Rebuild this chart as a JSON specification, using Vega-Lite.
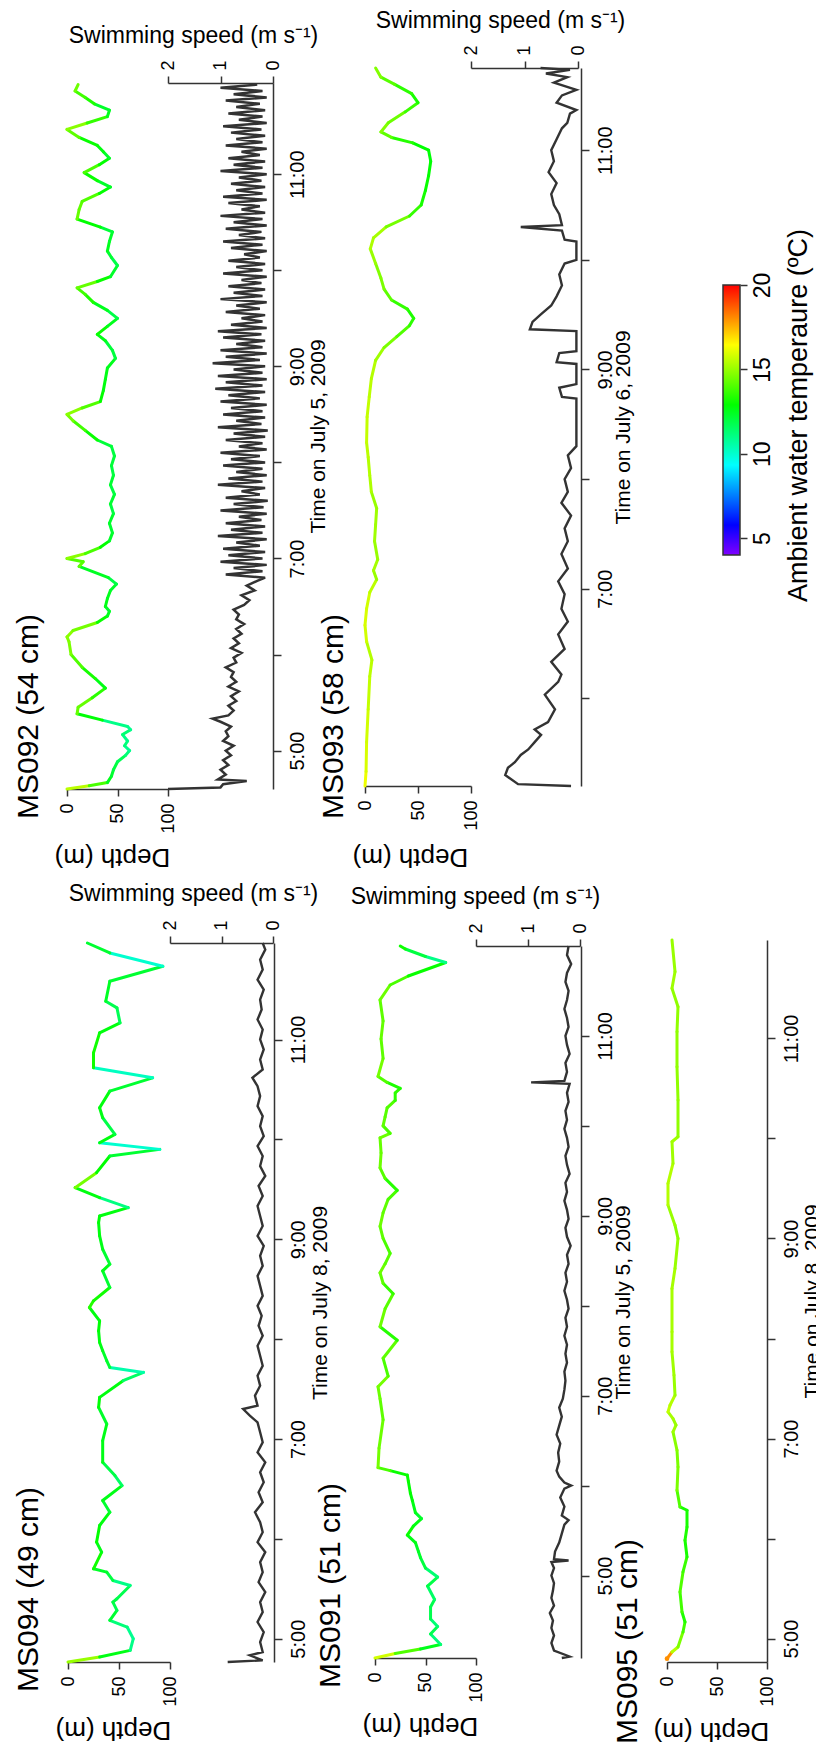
{
"$schema": "https://vega.github.io/schema/vega-lite/v6.json",
"width": 816, "height": 1764,
"autosize": {"type": "none"},
"padding": 0,
"background": "white",
"config": {"view": {"stroke": null}, "font": "Liberation Sans",
 "axis": {"grid": false, "labelColor": "#000", "titleColor": "#000", "domainColor": "#333", "tickColor": "#333", "domainWidth": 1.5, "tickWidth": 1.5, "titleFontWeight": "normal", "labelFontSize": 18, "titleFontSize": 22, "labelOverlap": false, "labelFlush": false}},
"datasets": {
"ms092_depth": [{"t":"04:36","d":0,"temp":15.5},{"t":"04:38","d":22,"temp":13.9},{"t":"04:40","d":40,"temp":12.5},{"t":"04:44","d":44,"temp":12.2},{"t":"04:48","d":46,"temp":12.0},{"t":"04:53","d":50,"temp":11.7},{"t":"04:57","d":58,"temp":11.2},{"t":"05:00","d":62,"temp":10.9},{"t":"05:03","d":57,"temp":11.2},{"t":"05:06","d":60,"temp":11.0},{"t":"05:10","d":55,"temp":11.3},{"t":"05:13","d":63,"temp":10.9},{"t":"05:15","d":60,"temp":11.0},{"t":"05:19","d":35,"temp":12.8},{"t":"05:23","d":10,"temp":14.3},{"t":"05:27","d":11,"temp":14.3},{"t":"05:33","d":25,"temp":13.5},{"t":"05:39","d":38,"temp":12.6},{"t":"05:45","d":28,"temp":13.2},{"t":"05:52","d":15,"temp":14.0},{"t":"06:00","d":4,"temp":14.6},{"t":"06:08","d":2,"temp":14.7},{"t":"06:11","d":0,"temp":14.8},{"t":"06:15","d":6,"temp":14.5},{"t":"06:20","d":30,"temp":13.0},{"t":"06:24","d":40,"temp":12.5},{"t":"06:27","d":42,"temp":12.3},{"t":"06:30","d":38,"temp":12.6},{"t":"06:35","d":40,"temp":12.5},{"t":"06:40","d":43,"temp":12.3},{"t":"06:44","d":49,"temp":11.9},{"t":"06:48","d":41,"temp":12.4},{"t":"06:55","d":12,"temp":14.2},{"t":"06:58","d":16,"temp":14.0},{"t":"07:00","d":0,"temp":14.8},{"t":"07:03","d":18,"temp":13.9},{"t":"07:07","d":33,"temp":12.9},{"t":"07:11","d":42,"temp":12.3},{"t":"07:16","d":45,"temp":12.2},{"t":"07:22","d":42,"temp":12.3},{"t":"07:28","d":46,"temp":12.0},{"t":"07:34","d":43,"temp":12.2},{"t":"07:40","d":47,"temp":12.0},{"t":"07:46","d":43,"temp":12.2},{"t":"07:52","d":46,"temp":12.0},{"t":"07:58","d":44,"temp":12.1},{"t":"08:04","d":47,"temp":12.0},{"t":"08:10","d":44,"temp":12.1},{"t":"08:14","d":30,"temp":13.0},{"t":"08:20","d":18,"temp":13.8},{"t":"08:26","d":6,"temp":14.5},{"t":"08:30","d":0,"temp":14.8},{"t":"08:34","d":15,"temp":14.0},{"t":"08:38","d":33,"temp":12.9},{"t":"08:45","d":36,"temp":12.7},{"t":"08:52","d":38,"temp":12.6},{"t":"08:59","d":40,"temp":12.5},{"t":"09:05","d":48,"temp":12.0},{"t":"09:10","d":45,"temp":12.1},{"t":"09:16","d":38,"temp":12.6},{"t":"09:20","d":30,"temp":13.0},{"t":"09:25","d":40,"temp":12.5},{"t":"09:30","d":50,"temp":11.9},{"t":"09:35","d":40,"temp":12.5},{"t":"09:40","d":26,"temp":13.3},{"t":"09:45","d":18,"temp":13.8},{"t":"09:49","d":10,"temp":14.3},{"t":"09:53","d":30,"temp":13.0},{"t":"09:56","d":43,"temp":12.3},{"t":"10:03","d":50,"temp":11.9},{"t":"10:08","d":44,"temp":12.2},{"t":"10:12","d":40,"temp":12.5},{"t":"10:18","d":42,"temp":12.3},{"t":"10:24","d":45,"temp":12.1},{"t":"10:27","d":33,"temp":12.9},{"t":"10:32","d":10,"temp":14.3},{"t":"10:38","d":12,"temp":14.2},{"t":"10:43","d":15,"temp":14.0},{"t":"10:48","d":32,"temp":12.9},{"t":"10:52","d":43,"temp":12.3},{"t":"10:56","d":30,"temp":13.0},{"t":"11:01","d":17,"temp":13.9},{"t":"11:06","d":32,"temp":12.9},{"t":"11:10","d":42,"temp":12.3},{"t":"11:14","d":36,"temp":12.7},{"t":"11:18","d":30,"temp":13.0},{"t":"11:23","d":12,"temp":14.2},{"t":"11:28","d":0,"temp":14.8},{"t":"11:32","d":20,"temp":13.6},{"t":"11:36","d":40,"temp":12.5},{"t":"11:40","d":42,"temp":12.3},{"t":"11:44","d":27,"temp":13.3},{"t":"11:48","d":18,"temp":13.8},{"t":"11:52","d":8,"temp":14.4},{"t":"11:56","d":11,"temp":14.3}],
"ms092_speed": [{"t":"04:36","s":2.0},{"t":"04:37","s":1.0},{"t":"04:39","s":0.95},{"t":"04:41","s":0.5},{"t":"04:42","s":1.05},{"t":"04:45","s":0.9},{"t":"04:48","s":1.0},{"t":"04:51","s":0.85},{"t":"04:54","s":0.95},{"t":"04:57","s":0.8},{"t":"05:00","s":0.9},{"t":"05:03","s":0.75},{"t":"05:06","s":0.95},{"t":"05:09","s":0.85},{"t":"05:12","s":0.9},{"t":"05:15","s":0.8},{"t":"05:18","s":1.0},{"t":"05:20","s":1.15},{"t":"05:22","s":0.85},{"t":"05:25","s":0.75},{"t":"05:28","s":0.85},{"t":"05:31","s":0.7},{"t":"05:34","s":0.8},{"t":"05:37","s":0.65},{"t":"05:40","s":0.85},{"t":"05:43","s":0.7},{"t":"05:46","s":0.8},{"t":"05:49","s":0.75},{"t":"05:52","s":0.9},{"t":"05:55","s":0.7},{"t":"05:58","s":0.75},{"t":"06:01","s":0.6},{"t":"06:04","s":0.8},{"t":"06:07","s":0.65},{"t":"06:10","s":0.75},{"t":"06:13","s":0.6},{"t":"06:16","s":0.7},{"t":"06:19","s":0.55},{"t":"06:22","s":0.7},{"t":"06:25","s":0.65},{"t":"06:28","s":0.75},{"t":"06:31","s":0.55},{"t":"06:34","s":0.45},{"t":"06:37","s":0.6},{"t":"06:40","s":0.35},{"t":"06:43","s":0.5},{"t":"06:46","s":0.3},{"t":"06:48","s":0.15},{"t":"06:50","s":0.9},{"t":"06:52","s":0.2},{"t":"06:54","s":0.75},{"t":"06:56","s":0.12},{"t":"06:58","s":1.0},{"t":"07:00","s":0.2},{"t":"07:02","s":0.85},{"t":"07:04","s":0.15},{"t":"07:06","s":0.95},{"t":"07:08","s":0.25},{"t":"07:10","s":0.7},{"t":"07:12","s":0.12},{"t":"07:14","s":1.05},{"t":"07:16","s":0.2},{"t":"07:18","s":0.8},{"t":"07:20","s":0.15},{"t":"07:22","s":0.9},{"t":"07:24","s":0.22},{"t":"07:26","s":0.65},{"t":"07:28","s":0.12},{"t":"07:30","s":1.0},{"t":"07:32","s":0.18},{"t":"07:34","s":0.75},{"t":"07:36","s":0.1},{"t":"07:38","s":0.9},{"t":"07:40","s":0.25},{"t":"07:42","s":0.6},{"t":"07:44","s":0.15},{"t":"07:46","s":1.05},{"t":"07:48","s":0.2},{"t":"07:50","s":0.85},{"t":"07:52","s":0.12},{"t":"07:54","s":0.7},{"t":"07:56","s":0.2},{"t":"07:58","s":0.95},{"t":"08:00","s":0.15},{"t":"08:02","s":0.8},{"t":"08:04","s":0.25},{"t":"08:06","s":1.0},{"t":"08:08","s":0.12},{"t":"08:10","s":0.65},{"t":"08:12","s":0.2},{"t":"08:14","s":0.9},{"t":"08:16","s":0.15},{"t":"08:18","s":0.75},{"t":"08:20","s":0.1},{"t":"08:22","s":1.05},{"t":"08:24","s":0.22},{"t":"08:26","s":0.7},{"t":"08:28","s":0.15},{"t":"08:30","s":0.95},{"t":"08:32","s":0.2},{"t":"08:34","s":0.8},{"t":"08:36","s":0.12},{"t":"08:38","s":1.0},{"t":"08:40","s":0.25},{"t":"08:42","s":0.85},{"t":"08:44","s":0.15},{"t":"08:46","s":1.1},{"t":"08:48","s":0.2},{"t":"08:50","s":0.9},{"t":"08:52","s":0.12},{"t":"08:54","s":1.05},{"t":"08:56","s":0.2},{"t":"08:58","s":0.75},{"t":"09:00","s":0.15},{"t":"09:02","s":1.15},{"t":"09:04","s":0.25},{"t":"09:06","s":0.9},{"t":"09:08","s":0.12},{"t":"09:10","s":1.0},{"t":"09:12","s":0.2},{"t":"09:14","s":0.7},{"t":"09:16","s":0.15},{"t":"09:18","s":0.95},{"t":"09:20","s":0.22},{"t":"09:22","s":1.05},{"t":"09:24","s":0.12},{"t":"09:26","s":0.8},{"t":"09:28","s":0.2},{"t":"09:30","s":0.6},{"t":"09:32","s":0.15},{"t":"09:34","s":0.9},{"t":"09:36","s":0.25},{"t":"09:38","s":0.7},{"t":"09:40","s":0.12},{"t":"09:42","s":1.0},{"t":"09:44","s":0.2},{"t":"09:46","s":0.75},{"t":"09:48","s":0.15},{"t":"09:50","s":0.85},{"t":"09:52","s":0.22},{"t":"09:54","s":0.6},{"t":"09:56","s":0.12},{"t":"09:58","s":0.95},{"t":"10:00","s":0.2},{"t":"10:02","s":0.7},{"t":"10:04","s":0.15},{"t":"10:06","s":0.85},{"t":"10:08","s":0.25},{"t":"10:10","s":0.55},{"t":"10:12","s":0.12},{"t":"10:14","s":0.8},{"t":"10:16","s":0.2},{"t":"10:18","s":0.95},{"t":"10:20","s":0.15},{"t":"10:22","s":0.65},{"t":"10:24","s":0.22},{"t":"10:26","s":0.9},{"t":"10:28","s":0.12},{"t":"10:30","s":0.75},{"t":"10:32","s":0.2},{"t":"10:34","s":1.0},{"t":"10:36","s":0.15},{"t":"10:38","s":0.6},{"t":"10:40","s":0.25},{"t":"10:42","s":0.85},{"t":"10:44","s":0.12},{"t":"10:46","s":0.95},{"t":"10:48","s":0.2},{"t":"10:50","s":0.7},{"t":"10:52","s":0.15},{"t":"10:54","s":0.8},{"t":"10:56","s":0.22},{"t":"10:58","s":0.65},{"t":"11:00","s":0.12},{"t":"11:02","s":1.0},{"t":"11:04","s":0.2},{"t":"11:06","s":0.75},{"t":"11:08","s":0.15},{"t":"11:10","s":0.85},{"t":"11:12","s":0.25},{"t":"11:14","s":0.6},{"t":"11:16","s":0.12},{"t":"11:18","s":0.9},{"t":"11:20","s":0.2},{"t":"11:22","s":0.7},{"t":"11:24","s":0.15},{"t":"11:26","s":0.8},{"t":"11:28","s":0.22},{"t":"11:30","s":0.95},{"t":"11:32","s":0.12},{"t":"11:34","s":0.65},{"t":"11:36","s":0.2},{"t":"11:38","s":0.85},{"t":"11:40","s":0.15},{"t":"11:42","s":0.7},{"t":"11:44","s":0.25},{"t":"11:46","s":0.9},{"t":"11:48","s":0.12},{"t":"11:50","s":0.75},{"t":"11:52","s":0.2},{"t":"11:54","s":1.0},{"t":"11:56","s":0.3}],
"ms093_depth": [{"t":"05:12","d":0,"temp":16.2},{"t":"05:20","d":1,"temp":15.9},{"t":"05:36","d":1.5,"temp":15.8},{"t":"05:54","d":3,"temp":15.6},{"t":"06:12","d":4.5,"temp":15.5},{"t":"06:21","d":6.5,"temp":15.4},{"t":"06:31","d":1.5,"temp":15.8},{"t":"06:40","d":0,"temp":15.9},{"t":"06:49","d":1.5,"temp":15.8},{"t":"06:58","d":4.5,"temp":15.5},{"t":"07:05","d":11,"temp":15.0},{"t":"07:10","d":8,"temp":15.2},{"t":"07:16","d":12,"temp":15.0},{"t":"07:26","d":9,"temp":15.1},{"t":"07:35","d":10,"temp":15.1},{"t":"07:44","d":11,"temp":15.0},{"t":"07:53","d":6,"temp":15.3},{"t":"08:02","d":4.5,"temp":15.4},{"t":"08:12","d":3,"temp":15.5},{"t":"08:20","d":1.5,"temp":15.6},{"t":"08:34","d":2,"temp":15.6},{"t":"08:45","d":4,"temp":15.5},{"t":"08:55","d":6,"temp":15.4},{"t":"09:05","d":10,"temp":15.1},{"t":"09:12","d":18,"temp":14.6},{"t":"09:18","d":30,"temp":14.0},{"t":"09:24","d":42,"temp":13.5},{"t":"09:28","d":46,"temp":13.3},{"t":"09:33","d":40,"temp":13.6},{"t":"09:38","d":25,"temp":14.2},{"t":"09:44","d":18,"temp":14.6},{"t":"09:50","d":15,"temp":14.7},{"t":"09:58","d":10,"temp":15.0},{"t":"10:06","d":5,"temp":15.3},{"t":"10:12","d":8,"temp":15.2},{"t":"10:18","d":20,"temp":14.5},{"t":"10:24","d":42,"temp":13.6},{"t":"10:30","d":53,"temp":13.2},{"t":"10:38","d":57,"temp":13.0},{"t":"10:46","d":60,"temp":12.9},{"t":"10:54","d":62,"temp":12.8},{"t":"11:00","d":60,"temp":12.9},{"t":"11:04","d":45,"temp":13.4},{"t":"11:07","d":25,"temp":14.2},{"t":"11:10","d":15,"temp":14.7},{"t":"11:15","d":22,"temp":14.4},{"t":"11:21","d":38,"temp":13.7},{"t":"11:26","d":50,"temp":13.2},{"t":"11:31","d":44,"temp":13.5},{"t":"11:36","d":28,"temp":14.1},{"t":"11:40","d":15,"temp":14.7},{"t":"11:45","d":10,"temp":15.0}],
"ms093_speed": [{"t":"05:12","s":0.13},{"t":"05:13","s":1.12},{"t":"05:18","s":1.36},{"t":"05:22","s":1.31},{"t":"05:25","s":1.18},{"t":"05:29","s":1.07},{"t":"05:32","s":0.93},{"t":"05:36","s":0.81},{"t":"05:40","s":0.69},{"t":"05:43","s":0.81},{"t":"05:47","s":0.56},{"t":"05:54","s":0.43},{"t":"06:02","s":0.62},{"t":"06:09","s":0.37},{"t":"06:13","s":0.31},{"t":"06:20","s":0.5},{"t":"06:27","s":0.25},{"t":"06:35","s":0.37},{"t":"06:42","s":0.19},{"t":"06:49","s":0.31},{"t":"06:57","s":0.25},{"t":"07:04","s":0.37},{"t":"07:11","s":0.19},{"t":"07:19","s":0.31},{"t":"07:26","s":0.19},{"t":"07:33","s":0.25},{"t":"07:40","s":0.13},{"t":"07:47","s":0.31},{"t":"07:53","s":0.19},{"t":"08:00","s":0.25},{"t":"08:06","s":0.13},{"t":"08:13","s":0.19},{"t":"08:18","s":0.03},{"t":"08:44","s":0.03},{"t":"08:45","s":0.3},{"t":"08:50","s":0.35},{"t":"08:52","s":0.03},{"t":"09:03","s":0.03},{"t":"09:04","s":0.4},{"t":"09:09","s":0.35},{"t":"09:10","s":0.03},{"t":"09:21","s":0.03},{"t":"09:22","s":0.9},{"t":"09:26","s":0.85},{"t":"09:30","s":0.7},{"t":"09:35","s":0.5},{"t":"09:40","s":0.4},{"t":"09:46","s":0.3},{"t":"09:52","s":0.35},{"t":"09:58","s":0.25},{"t":"10:00","s":0.03},{"t":"10:10","s":0.03},{"t":"10:11","s":0.25},{"t":"10:16","s":0.3},{"t":"10:18","s":1.07},{"t":"10:19","s":0.3},{"t":"10:25","s":0.35},{"t":"10:30","s":0.45},{"t":"10:36","s":0.5},{"t":"10:42","s":0.4},{"t":"10:48","s":0.55},{"t":"10:54","s":0.45},{"t":"11:00","s":0.5},{"t":"11:06","s":0.4},{"t":"11:12","s":0.3},{"t":"11:15","s":0.2},{"t":"11:20","s":0.15},{"t":"11:22","s":0.03},{"t":"11:26","s":0.4},{"t":"11:30","s":0.3},{"t":"11:33","s":0.03},{"t":"11:37","s":0.45},{"t":"11:40","s":0.2},{"t":"11:42","s":0.6},{"t":"11:44","s":0.15},{"t":"11:45","s":0.7}],
"ms094_depth": [{"t":"04:46","d":0,"temp":15.0},{"t":"04:49","d":31,"temp":12.6},{"t":"04:53","d":61,"temp":11.0},{"t":"05:00","d":64,"temp":10.9},{"t":"05:07","d":58,"temp":11.2},{"t":"05:11","d":41,"temp":12.2},{"t":"05:17","d":48,"temp":11.8},{"t":"05:22","d":44,"temp":12.0},{"t":"05:24","d":48,"temp":11.8},{"t":"05:32","d":61,"temp":11.0},{"t":"05:35","d":44,"temp":12.0},{"t":"05:40","d":38,"temp":12.3},{"t":"05:42","d":25,"temp":13.1},{"t":"05:52","d":33,"temp":12.6},{"t":"05:58","d":28,"temp":12.9},{"t":"06:08","d":31,"temp":12.7},{"t":"06:16","d":41,"temp":12.2},{"t":"06:23","d":34,"temp":12.6},{"t":"06:32","d":53,"temp":11.5},{"t":"06:38","d":46,"temp":11.9},{"t":"06:46","d":34,"temp":12.6},{"t":"06:59","d":34,"temp":12.6},{"t":"07:09","d":38,"temp":12.3},{"t":"07:19","d":30,"temp":12.8},{"t":"07:25","d":31,"temp":12.7},{"t":"07:35","d":54,"temp":11.5},{"t":"07:40","d":74,"temp":10.5},{"t":"07:43","d":41,"temp":12.2},{"t":"07:47","d":38,"temp":12.3},{"t":"07:53","d":34,"temp":12.6},{"t":"07:58","d":31,"temp":12.7},{"t":"08:05","d":30,"temp":12.8},{"t":"08:11","d":31,"temp":12.7},{"t":"08:19","d":21,"temp":13.4},{"t":"08:23","d":25,"temp":13.1},{"t":"08:31","d":41,"temp":12.2},{"t":"08:41","d":34,"temp":12.6},{"t":"08:45","d":41,"temp":12.2},{"t":"08:54","d":34,"temp":12.6},{"t":"09:02","d":31,"temp":12.7},{"t":"09:10","d":30,"temp":12.8},{"t":"09:14","d":31,"temp":12.7},{"t":"09:19","d":59,"temp":11.1},{"t":"09:25","d":31,"temp":12.7},{"t":"09:31","d":7,"temp":14.5},{"t":"09:40","d":28,"temp":12.9},{"t":"09:50","d":41,"temp":12.2},{"t":"09:54","d":90,"temp":10.0},{"t":"09:58","d":31,"temp":12.7},{"t":"10:03","d":46,"temp":11.9},{"t":"10:13","d":34,"temp":12.6},{"t":"10:19","d":31,"temp":12.7},{"t":"10:29","d":41,"temp":12.2},{"t":"10:37","d":83,"temp":10.2},{"t":"10:43","d":25,"temp":13.1},{"t":"10:52","d":25,"temp":13.1},{"t":"11:04","d":31,"temp":12.7},{"t":"11:10","d":51,"temp":11.7},{"t":"11:19","d":48,"temp":11.8},{"t":"11:23","d":37,"temp":12.4},{"t":"11:35","d":41,"temp":12.2},{"t":"11:44","d":93,"temp":10.0},{"t":"11:52","d":41,"temp":12.2},{"t":"11:58","d":19,"temp":13.5}],
"ms094_speed": [{"t":"04:46","s":0.88},{"t":"04:47","s":0.2},{"t":"04:50","s":0.45},{"t":"04:52","s":0.2},{"t":"04:58","s":0.25},{"t":"05:04","s":0.18},{"t":"05:10","s":0.3},{"t":"05:16","s":0.2},{"t":"05:22","s":0.25},{"t":"05:28","s":0.15},{"t":"05:34","s":0.28},{"t":"05:40","s":0.2},{"t":"05:46","s":0.25},{"t":"05:52","s":0.15},{"t":"05:58","s":0.3},{"t":"06:04","s":0.2},{"t":"06:10","s":0.25},{"t":"06:16","s":0.35},{"t":"06:22","s":0.2},{"t":"06:28","s":0.28},{"t":"06:34","s":0.18},{"t":"06:40","s":0.25},{"t":"06:46","s":0.15},{"t":"06:52","s":0.3},{"t":"06:58","s":0.2},{"t":"07:04","s":0.25},{"t":"07:10","s":0.3},{"t":"07:14","s":0.45},{"t":"07:18","s":0.58},{"t":"07:20","s":0.3},{"t":"07:26","s":0.35},{"t":"07:32","s":0.25},{"t":"07:38","s":0.3},{"t":"07:44","s":0.2},{"t":"07:50","s":0.25},{"t":"07:56","s":0.3},{"t":"08:02","s":0.2},{"t":"08:08","s":0.28},{"t":"08:14","s":0.22},{"t":"08:20","s":0.3},{"t":"08:26","s":0.2},{"t":"08:32","s":0.25},{"t":"08:38","s":0.3},{"t":"08:44","s":0.2},{"t":"08:50","s":0.25},{"t":"08:56","s":0.18},{"t":"09:02","s":0.3},{"t":"09:08","s":0.2},{"t":"09:14","s":0.25},{"t":"09:20","s":0.3},{"t":"09:26","s":0.2},{"t":"09:32","s":0.28},{"t":"09:38","s":0.15},{"t":"09:44","s":0.25},{"t":"09:50","s":0.2},{"t":"09:56","s":0.3},{"t":"10:02","s":0.18},{"t":"10:08","s":0.25},{"t":"10:14","s":0.2},{"t":"10:20","s":0.3},{"t":"10:26","s":0.25},{"t":"10:32","s":0.3},{"t":"10:37","s":0.4},{"t":"10:42","s":0.2},{"t":"10:48","s":0.25},{"t":"10:54","s":0.18},{"t":"11:00","s":0.25},{"t":"11:06","s":0.2},{"t":"11:12","s":0.3},{"t":"11:18","s":0.22},{"t":"11:24","s":0.25},{"t":"11:30","s":0.18},{"t":"11:36","s":0.3},{"t":"11:42","s":0.2},{"t":"11:48","s":0.25},{"t":"11:54","s":0.15},{"t":"11:58","s":0.2}],
"ms091_depth": [{"t":"04:05","d":0,"temp":15.8},{"t":"04:08","d":20,"temp":14.0},{"t":"04:11","d":45,"temp":12.5},{"t":"04:14","d":65,"temp":11.2},{"t":"04:21","d":55,"temp":11.8},{"t":"04:26","d":62,"temp":11.3},{"t":"04:31","d":55,"temp":11.8},{"t":"04:39","d":55,"temp":11.8},{"t":"04:44","d":59,"temp":11.5},{"t":"04:53","d":52,"temp":11.9},{"t":"04:59","d":62,"temp":11.3},{"t":"05:05","d":50,"temp":12.0},{"t":"05:12","d":45,"temp":12.3},{"t":"05:16","d":43,"temp":12.4},{"t":"05:22","d":40,"temp":12.6},{"t":"05:27","d":32,"temp":13.0},{"t":"05:33","d":38,"temp":12.7},{"t":"05:38","d":46,"temp":12.3},{"t":"05:42","d":40,"temp":12.6},{"t":"05:50","d":37,"temp":12.8},{"t":"05:55","d":35,"temp":12.9},{"t":"06:03","d":33,"temp":13.0},{"t":"06:07","d":32,"temp":13.0},{"t":"06:10","d":15,"temp":13.9},{"t":"06:12","d":3,"temp":14.5},{"t":"06:25","d":4,"temp":14.4},{"t":"06:44","d":8,"temp":14.2},{"t":"06:58","d":5,"temp":14.4},{"t":"07:06","d":3,"temp":14.5},{"t":"07:13","d":13,"temp":13.9},{"t":"07:25","d":8,"temp":14.2},{"t":"07:37","d":22,"temp":13.4},{"t":"07:46","d":5,"temp":14.4},{"t":"07:58","d":10,"temp":14.1},{"t":"08:08","d":18,"temp":13.6},{"t":"08:15","d":8,"temp":14.2},{"t":"08:22","d":5,"temp":14.4},{"t":"08:28","d":10,"temp":14.1},{"t":"08:35","d":15,"temp":13.9},{"t":"08:45","d":8,"temp":14.2},{"t":"08:53","d":5,"temp":14.4},{"t":"09:02","d":8,"temp":14.2},{"t":"09:11","d":13,"temp":13.9},{"t":"09:17","d":22,"temp":13.4},{"t":"09:25","d":10,"temp":14.1},{"t":"09:32","d":5,"temp":14.4},{"t":"09:42","d":6,"temp":14.3},{"t":"09:52","d":5,"temp":14.4},{"t":"09:55","d":15,"temp":13.9},{"t":"10:00","d":8,"temp":14.2},{"t":"10:06","d":10,"temp":14.1},{"t":"10:12","d":12,"temp":14.0},{"t":"10:17","d":20,"temp":13.5},{"t":"10:22","d":20,"temp":13.5},{"t":"10:25","d":25,"temp":13.3},{"t":"10:29","d":12,"temp":14.0},{"t":"10:33","d":3,"temp":14.5},{"t":"10:45","d":8,"temp":14.2},{"t":"10:58","d":6,"temp":14.3},{"t":"11:10","d":8,"temp":14.2},{"t":"11:24","d":5,"temp":14.4},{"t":"11:34","d":15,"temp":13.9},{"t":"11:40","d":33,"temp":13.0},{"t":"11:49","d":70,"temp":11.0},{"t":"11:53","d":50,"temp":12.0},{"t":"11:58","d":30,"temp":13.1},{"t":"12:00","d":25,"temp":13.3}],
"ms091_speed": [{"t":"04:05","s":0.35},{"t":"04:06","s":0.2},{"t":"04:10","s":0.5},{"t":"04:15","s":0.55},{"t":"04:20","s":0.5},{"t":"04:25","s":0.55},{"t":"04:30","s":0.52},{"t":"04:35","s":0.58},{"t":"04:40","s":0.5},{"t":"04:45","s":0.55},{"t":"04:50","s":0.52},{"t":"04:55","s":0.5},{"t":"05:00","s":0.55},{"t":"05:05","s":0.5},{"t":"05:09","s":0.55},{"t":"05:10","s":0.22},{"t":"05:11","s":0.5},{"t":"05:16","s":0.48},{"t":"05:22","s":0.4},{"t":"05:28","s":0.35},{"t":"05:34","s":0.3},{"t":"05:37","s":0.22},{"t":"05:40","s":0.35},{"t":"05:46","s":0.3},{"t":"05:52","s":0.38},{"t":"05:58","s":0.3},{"t":"06:00","s":0.17},{"t":"06:02","s":0.3},{"t":"06:06","s":0.4},{"t":"06:10","s":0.45},{"t":"06:16","s":0.4},{"t":"06:22","s":0.42},{"t":"06:28","s":0.38},{"t":"06:34","s":0.45},{"t":"06:40","s":0.4},{"t":"06:46","s":0.35},{"t":"06:52","s":0.4},{"t":"06:58","s":0.33},{"t":"07:04","s":0.3},{"t":"07:10","s":0.28},{"t":"07:16","s":0.3},{"t":"07:22","s":0.25},{"t":"07:28","s":0.28},{"t":"07:34","s":0.25},{"t":"07:40","s":0.3},{"t":"07:46","s":0.25},{"t":"07:52","s":0.28},{"t":"07:58","s":0.22},{"t":"08:04","s":0.25},{"t":"08:10","s":0.3},{"t":"08:16","s":0.25},{"t":"08:22","s":0.28},{"t":"08:28","s":0.22},{"t":"08:34","s":0.25},{"t":"08:40","s":0.18},{"t":"08:46","s":0.25},{"t":"08:52","s":0.28},{"t":"08:58","s":0.22},{"t":"09:04","s":0.25},{"t":"09:10","s":0.3},{"t":"09:16","s":0.25},{"t":"09:22","s":0.28},{"t":"09:28","s":0.2},{"t":"09:34","s":0.25},{"t":"09:40","s":0.28},{"t":"09:46","s":0.22},{"t":"09:52","s":0.25},{"t":"09:58","s":0.3},{"t":"10:04","s":0.25},{"t":"10:10","s":0.28},{"t":"10:16","s":0.22},{"t":"10:22","s":0.25},{"t":"10:28","s":0.2},{"t":"10:29","s":0.94},{"t":"10:30","s":0.3},{"t":"10:36","s":0.25},{"t":"10:42","s":0.28},{"t":"10:48","s":0.2},{"t":"10:54","s":0.25},{"t":"11:00","s":0.28},{"t":"11:06","s":0.22},{"t":"11:12","s":0.25},{"t":"11:18","s":0.3},{"t":"11:24","s":0.25},{"t":"11:30","s":0.22},{"t":"11:36","s":0.28},{"t":"11:42","s":0.25},{"t":"11:48","s":0.17},{"t":"11:54","s":0.25},{"t":"12:00","s":0.22}],
"ms095_depth": [{"t":"04:48","d":0,"temp":18.0},{"t":"04:52","d":5,"temp":15.4},{"t":"04:55","d":11,"temp":14.6},{"t":"05:04","d":16,"temp":13.8},{"t":"05:10","d":18,"temp":13.3},{"t":"05:16","d":15,"temp":13.8},{"t":"05:28","d":13,"temp":14.0},{"t":"05:40","d":16,"temp":13.7},{"t":"05:49","d":20,"temp":13.2},{"t":"05:59","d":18,"temp":13.3},{"t":"06:07","d":20,"temp":13.2},{"t":"06:17","d":20,"temp":13.2},{"t":"06:19","d":13,"temp":14.0},{"t":"06:29","d":10,"temp":14.6},{"t":"06:43","d":11,"temp":14.6},{"t":"06:53","d":10,"temp":14.8},{"t":"07:04","d":6,"temp":15.1},{"t":"07:08","d":9,"temp":15.0},{"t":"07:12","d":6,"temp":15.2},{"t":"07:16","d":1,"temp":15.6},{"t":"07:20","d":3,"temp":15.4},{"t":"07:26","d":8,"temp":15.0},{"t":"07:38","d":7,"temp":15.1},{"t":"07:52","d":5,"temp":15.2},{"t":"08:04","d":5,"temp":15.2},{"t":"08:30","d":5,"temp":15.2},{"t":"08:42","d":8,"temp":15.0},{"t":"09:00","d":11,"temp":14.8},{"t":"09:08","d":8,"temp":15.0},{"t":"09:20","d":1,"temp":15.4},{"t":"09:33","d":1,"temp":15.4},{"t":"09:45","d":6,"temp":15.1},{"t":"09:58","d":5,"temp":15.1},{"t":"10:01","d":11,"temp":14.9},{"t":"10:23","d":11,"temp":14.9},{"t":"10:43","d":10,"temp":14.9},{"t":"11:04","d":10,"temp":14.9},{"t":"11:19","d":11,"temp":14.9},{"t":"11:30","d":5,"temp":15.1},{"t":"11:40","d":8,"temp":15.0},{"t":"11:59","d":5,"temp":15.1}],
"ms095_start": [{"t":"04:48","d":0,"temp":18.0}]
},
"layer": [
{
 "layer": [
  {
   "data": {"name": "ms092_depth", "format": {"parse": {"t": "date:'%H:%M'"}}},
   "transform": [{"window": [{"op": "lead", "field": "t", "as": "t2"}, {"op": "lead", "field": "d", "as": "d2"}], "sort": [{"field": "t"}]}, {"filter": "datum.t2 != null"}],
   "mark": {"type": "rule", "strokeWidth": 3, "strokeCap": "round"},
   "encoding": {
    "y": {"field": "t", "type": "temporal", "scale": {"domain": [{"year":1900,"month":1,"date":1,"hours":4,"minutes":36}, {"year":1900,"month":1,"date":1,"hours":11,"minutes":57}], "range": [789, 83]},
     "axis": {"orient": "right", "offset": -543, "values": [{"year":1900,"month":1,"date":1,"hours":5},{"year":1900,"month":1,"date":1,"hours":6},{"year":1900,"month":1,"date":1,"hours":7},{"year":1900,"month":1,"date":1,"hours":8},{"year":1900,"month":1,"date":1,"hours":9},{"year":1900,"month":1,"date":1,"hours":10},{"year":1900,"month":1,"date":1,"hours":11}], "labelExpr": "hours(datum.value) % 2 == 1 ? hours(datum.value) + ':00' : ''", "labelAngle": 270, "labelAlign": "center", "labelBaseline": "top", "labelPadding": 6, "tickSize": 8, "labelFontSize": 20, "title": "Time on July 5, 2009", "titleAngle": 270, "titleX": 45, "titleAlign": "center", "titleBaseline": "middle", "titleFontSize": 21}},
    "y2": {"field": "t2"},
    "x": {"field": "d", "type": "quantitative", "scale": {"domain": [0, 100], "range": [67, 168]},
     "axis": {"orient": "bottom", "offset": -975, "values": [0, 50, 100], "labelAngle": 270, "labelAlign": "right", "labelBaseline": "middle", "labelPadding": 7, "tickSize": 7, "title": "Depth (m)", "titleAngle": 180, "titleX": 112, "titleY": 67, "titleAlign": "center", "titleBaseline": "middle", "titleFontSize": 26}},
    "x2": {"field": "d2"},
    "color": {"field": "temp", "type": "quantitative", "scale": {"type": "linear", "domain": [4, 5.78, 9.33, 12.89, 16.44, 20], "range": ["#8000ff", "#0000ff", "#00ffff", "#00ff00", "#ffff00", "#ff0000"], "interpolate": "rgb"}, "legend": null}
   }
  },
  {
   "data": {"name": "ms092_speed", "format": {"parse": {"t": "date:'%H:%M'"}}},
   "mark": {"type": "line", "color": "#333333", "strokeWidth": 2.5},
   "encoding": {
    "y": {"field": "t", "type": "temporal", "scale": {"domain": [{"year":1900,"month":1,"date":1,"hours":4,"minutes":36}, {"year":1900,"month":1,"date":1,"hours":11,"minutes":57}], "range": [789, 83]},
     "axis": {"orient": "left", "offset": 0, "domain": false, "ticks": false, "labels": false, "title": "MS092 (54 cm)", "titleAngle": 270, "titleX": 28, "titleY": 716, "titleAlign": "center", "titleBaseline": "middle", "titleFontSize": 30}},
    "x": {"field": "s", "type": "quantitative", "scale": {"domain": [0, 2], "range": [273, 168]},
     "axis": {"orient": "top", "offset": -83, "values": [0, 1, 2], "labelExpr": "datum.value == 0 ? '0' : (datum.value == 1 ? '1' : '2')", "labelOverlap": false, "labelAngle": 270, "labelAlign": "left", "labelBaseline": "middle", "labelPadding": 6, "tickSize": 7, "title": "Swimming speed (m s⁻¹)", "titleAngle": 0, "titleX": 193, "titleY": -48, "titleAlign": "center", "titleBaseline": "middle", "titleFontSize": 23}},
    "order": {"field": "t", "type": "temporal"}
   }
  }
 ],
 "resolve": {"scale": {"x": "independent"}, "axis": {"x": "independent", "y": "independent"}}
},
{
 "layer": [
  {
   "data": {"name": "ms093_depth", "format": {"parse": {"t": "date:'%H:%M'"}}},
   "transform": [{"window": [{"op": "lead", "field": "t", "as": "t2"}, {"op": "lead", "field": "d", "as": "d2"}], "sort": [{"field": "t"}]}, {"filter": "datum.t2 != null"}],
   "mark": {"type": "rule", "strokeWidth": 3, "strokeCap": "round"},
   "encoding": {
    "y": {"field": "t", "type": "temporal", "scale": {"domain": [{"year":1900,"month":1,"date":1,"hours":5,"minutes":12}, {"year":1900,"month":1,"date":1,"hours":11,"minutes":45}], "range": [786, 68]},
     "axis": {"orient": "right", "offset": -235, "values": [{"year":1900,"month":1,"date":1,"hours":6},{"year":1900,"month":1,"date":1,"hours":7},{"year":1900,"month":1,"date":1,"hours":8},{"year":1900,"month":1,"date":1,"hours":9},{"year":1900,"month":1,"date":1,"hours":10},{"year":1900,"month":1,"date":1,"hours":11}], "labelExpr": "hours(datum.value) % 2 == 1 ? hours(datum.value) + ':00' : ''", "labelAngle": 270, "labelAlign": "center", "labelBaseline": "top", "labelPadding": 6, "tickSize": 8, "labelFontSize": 20, "title": "Time on July 6, 2009", "titleAngle": 270, "titleX": 42, "titleAlign": "center", "titleBaseline": "middle", "titleFontSize": 21}},
    "y2": {"field": "t2"},
    "x": {"field": "d", "type": "quantitative", "scale": {"domain": [0, 100], "range": [365, 471]},
     "axis": {"orient": "bottom", "offset": -978, "values": [0, 50, 100], "labelAngle": 270, "labelAlign": "right", "labelBaseline": "middle", "labelPadding": 7, "tickSize": 7, "title": "Depth (m)", "titleAngle": 180, "titleX": 410, "titleY": 70, "titleAlign": "center", "titleBaseline": "middle", "titleFontSize": 26}},
    "x2": {"field": "d2"},
    "color": {"field": "temp", "type": "quantitative", "scale": {"type": "linear", "domain": [4, 5.78, 9.33, 12.89, 16.44, 20], "range": ["#8000ff", "#0000ff", "#00ffff", "#00ff00", "#ffff00", "#ff0000"], "interpolate": "rgb"}, "legend": null}
   }
  },
  {
   "data": {"name": "ms093_speed", "format": {"parse": {"t": "date:'%H:%M'"}}},
   "mark": {"type": "line", "color": "#333333", "strokeWidth": 2.4},
   "encoding": {
    "y": {"field": "t", "type": "temporal", "scale": {"domain": [{"year":1900,"month":1,"date":1,"hours":5,"minutes":12}, {"year":1900,"month":1,"date":1,"hours":11,"minutes":45}], "range": [786, 68]},
     "axis": {"orient": "left", "offset": 0, "domain": false, "ticks": false, "labels": false, "title": "MS093 (58 cm)", "titleAngle": 270, "titleX": 333, "titleY": 716, "titleAlign": "center", "titleBaseline": "middle", "titleFontSize": 30}},
    "x": {"field": "s", "type": "quantitative", "scale": {"domain": [0, 2], "range": [578, 471]},
     "axis": {"orient": "top", "offset": -68, "values": [0, 1, 2], "labelExpr": "datum.value == 0 ? '0' : (datum.value == 1 ? '1' : '2')", "labelOverlap": false, "labelAngle": 270, "labelAlign": "left", "labelBaseline": "middle", "labelPadding": 6, "tickSize": 7, "title": "Swimming speed (m s⁻¹)", "titleAngle": 0, "titleX": 500, "titleY": -48, "titleAlign": "center", "titleBaseline": "middle", "titleFontSize": 23}},
    "order": {"field": "t", "type": "temporal"}
   }
  }
 ],
 "resolve": {"scale": {"x": "independent"}, "axis": {"x": "independent", "y": "independent"}}
},
{
 "layer": [
  {
   "data": {"name": "ms094_depth", "format": {"parse": {"t": "date:'%H:%M'"}}},
   "transform": [{"window": [{"op": "lead", "field": "t", "as": "t2"}, {"op": "lead", "field": "d", "as": "d2"}], "sort": [{"field": "t"}]}, {"filter": "datum.t2 != null"}],
   "mark": {"type": "rule", "strokeWidth": 3, "strokeCap": "round"},
   "encoding": {
    "y": {"field": "t", "type": "temporal", "scale": {"domain": [{"year":1900,"month":1,"date":1,"hours":4,"minutes":46}, {"year":1900,"month":1,"date":1,"hours":11,"minutes":58}], "range": [1662, 943]},
     "axis": {"orient": "right", "offset": -542, "values": [{"year":1900,"month":1,"date":1,"hours":5},{"year":1900,"month":1,"date":1,"hours":6},{"year":1900,"month":1,"date":1,"hours":7},{"year":1900,"month":1,"date":1,"hours":8},{"year":1900,"month":1,"date":1,"hours":9},{"year":1900,"month":1,"date":1,"hours":10},{"year":1900,"month":1,"date":1,"hours":11}], "labelExpr": "hours(datum.value) % 2 == 1 ? hours(datum.value) + ':00' : ''", "labelAngle": 270, "labelAlign": "center", "labelBaseline": "top", "labelPadding": 6, "tickSize": 8, "labelFontSize": 20, "title": "Time on July 8, 2009", "titleAngle": 270, "titleX": 46, "titleAlign": "center", "titleBaseline": "middle", "titleFontSize": 21}},
    "y2": {"field": "t2"},
    "x": {"field": "d", "type": "quantitative", "scale": {"domain": [0, 100], "range": [68, 170]},
     "axis": {"orient": "bottom", "offset": -102, "values": [0, 50, 100], "labelAngle": 270, "labelAlign": "right", "labelBaseline": "middle", "labelPadding": 7, "tickSize": 7, "title": "Depth (m)", "titleAngle": 180, "titleX": 113, "titleY": 67, "titleAlign": "center", "titleBaseline": "middle", "titleFontSize": 26}},
    "x2": {"field": "d2"},
    "color": {"field": "temp", "type": "quantitative", "scale": {"type": "linear", "domain": [4, 5.78, 9.33, 12.89, 16.44, 20], "range": ["#8000ff", "#0000ff", "#00ffff", "#00ff00", "#ffff00", "#ff0000"], "interpolate": "rgb"}, "legend": null}
   }
  },
  {
   "data": {"name": "ms094_speed", "format": {"parse": {"t": "date:'%H:%M'"}}},
   "mark": {"type": "line", "color": "#333333", "strokeWidth": 2.4},
   "encoding": {
    "y": {"field": "t", "type": "temporal", "scale": {"domain": [{"year":1900,"month":1,"date":1,"hours":4,"minutes":46}, {"year":1900,"month":1,"date":1,"hours":11,"minutes":58}], "range": [1662, 943]},
     "axis": {"orient": "left", "offset": 0, "domain": false, "ticks": false, "labels": false, "title": "MS094 (49 cm)", "titleAngle": 270, "titleX": 28, "titleY": 1589, "titleAlign": "center", "titleBaseline": "middle", "titleFontSize": 30}},
    "x": {"field": "s", "type": "quantitative", "scale": {"domain": [0, 2], "range": [273, 170]},
     "axis": {"orient": "top", "offset": -943, "values": [0, 1, 2], "labelExpr": "datum.value == 0 ? '0' : (datum.value == 1 ? '1' : '2')", "labelOverlap": false, "labelAngle": 270, "labelAlign": "left", "labelBaseline": "middle", "labelPadding": 6, "tickSize": 7, "title": "Swimming speed (m s⁻¹)", "titleAngle": 0, "titleX": 193, "titleY": -50, "titleAlign": "center", "titleBaseline": "middle", "titleFontSize": 23}},
    "order": {"field": "t", "type": "temporal"}
   }
  }
 ],
 "resolve": {"scale": {"x": "independent"}, "axis": {"x": "independent", "y": "independent"}}
},
{
 "layer": [
  {
   "data": {"name": "ms091_depth", "format": {"parse": {"t": "date:'%H:%M'"}}},
   "transform": [{"window": [{"op": "lead", "field": "t", "as": "t2"}, {"op": "lead", "field": "d", "as": "d2"}], "sort": [{"field": "t"}]}, {"filter": "datum.t2 != null"}],
   "mark": {"type": "rule", "strokeWidth": 3, "strokeCap": "round"},
   "encoding": {
    "y": {"field": "t", "type": "temporal", "scale": {"domain": [{"year":1900,"month":1,"date":1,"hours":4,"minutes":5}, {"year":1900,"month":1,"date":1,"hours":12,"minutes":0}], "range": [1658, 946]},
     "axis": {"orient": "right", "offset": -235, "values": [{"year":1900,"month":1,"date":1,"hours":5},{"year":1900,"month":1,"date":1,"hours":6},{"year":1900,"month":1,"date":1,"hours":7},{"year":1900,"month":1,"date":1,"hours":8},{"year":1900,"month":1,"date":1,"hours":9},{"year":1900,"month":1,"date":1,"hours":10},{"year":1900,"month":1,"date":1,"hours":11}], "labelExpr": "hours(datum.value) % 2 == 1 ? hours(datum.value) + ':00' : ''", "labelAngle": 270, "labelAlign": "center", "labelBaseline": "top", "labelPadding": 6, "tickSize": 8, "labelFontSize": 20, "title": "Time on July 5, 2009", "titleAngle": 270, "titleX": 42, "titleAlign": "center", "titleBaseline": "middle", "titleFontSize": 21}},
    "y2": {"field": "t2"},
    "x": {"field": "d", "type": "quantitative", "scale": {"domain": [0, 100], "range": [375, 476]},
     "axis": {"orient": "bottom", "offset": -106, "values": [0, 50, 100], "labelAngle": 270, "labelAlign": "right", "labelBaseline": "middle", "labelPadding": 7, "tickSize": 7, "title": "Depth (m)", "titleAngle": 180, "titleX": 420, "titleY": 67, "titleAlign": "center", "titleBaseline": "middle", "titleFontSize": 26}},
    "x2": {"field": "d2"},
    "color": {"field": "temp", "type": "quantitative", "scale": {"type": "linear", "domain": [4, 5.78, 9.33, 12.89, 16.44, 20], "range": ["#8000ff", "#0000ff", "#00ffff", "#00ff00", "#ffff00", "#ff0000"], "interpolate": "rgb"}, "legend": null}
   }
  },
  {
   "data": {"name": "ms091_speed", "format": {"parse": {"t": "date:'%H:%M'"}}},
   "mark": {"type": "line", "color": "#333333", "strokeWidth": 2.4},
   "encoding": {
    "y": {"field": "t", "type": "temporal", "scale": {"domain": [{"year":1900,"month":1,"date":1,"hours":4,"minutes":5}, {"year":1900,"month":1,"date":1,"hours":12,"minutes":0}], "range": [1658, 946]},
     "axis": {"orient": "left", "offset": 0, "domain": false, "ticks": false, "labels": false, "title": "MS091 (51 cm)", "titleAngle": 270, "titleX": 330, "titleY": 1585, "titleAlign": "center", "titleBaseline": "middle", "titleFontSize": 30}},
    "x": {"field": "s", "type": "quantitative", "scale": {"domain": [0, 2], "range": [580, 476]},
     "axis": {"orient": "top", "offset": -946, "values": [0, 1, 2], "labelExpr": "datum.value == 0 ? '0' : (datum.value == 1 ? '1' : '2')", "labelOverlap": false, "labelAngle": 270, "labelAlign": "left", "labelBaseline": "middle", "labelPadding": 6, "tickSize": 7, "title": "Swimming speed (m s⁻¹)", "titleAngle": 0, "titleX": 475, "titleY": -50, "titleAlign": "center", "titleBaseline": "middle", "titleFontSize": 23}},
    "order": {"field": "t", "type": "temporal"}
   }
  }
 ],
 "resolve": {"scale": {"x": "independent"}, "axis": {"x": "independent", "y": "independent"}}
},
{
 "layer": [
  {
   "data": {"name": "ms095_depth", "format": {"parse": {"t": "date:'%H:%M'"}}},
   "transform": [{"window": [{"op": "lead", "field": "t", "as": "t2"}, {"op": "lead", "field": "d", "as": "d2"}], "sort": [{"field": "t"}]}, {"filter": "datum.t2 != null"}],
   "mark": {"type": "rule", "strokeWidth": 3, "strokeCap": "round"},
   "encoding": {
    "y": {"field": "t", "type": "temporal", "scale": {"domain": [{"year":1900,"month":1,"date":1,"hours":4,"minutes":46}, {"year":1900,"month":1,"date":1,"hours":11,"minutes":59}], "range": [1662, 940]},
     "axis": {"orient": "right", "offset": -49, "values": [{"year":1900,"month":1,"date":1,"hours":5},{"year":1900,"month":1,"date":1,"hours":6},{"year":1900,"month":1,"date":1,"hours":7},{"year":1900,"month":1,"date":1,"hours":8},{"year":1900,"month":1,"date":1,"hours":9},{"year":1900,"month":1,"date":1,"hours":10},{"year":1900,"month":1,"date":1,"hours":11}], "labelExpr": "hours(datum.value) % 2 == 1 ? hours(datum.value) + ':00' : ''", "labelAngle": 270, "labelAlign": "center", "labelBaseline": "top", "labelPadding": 6, "tickSize": 8, "labelFontSize": 20, "title": "Time on July 8, 2009", "titleAngle": 270, "titleX": 45, "titleAlign": "center", "titleBaseline": "middle", "titleFontSize": 21}},
    "y2": {"field": "t2"},
    "x": {"field": "d", "type": "quantitative", "scale": {"domain": [0, 100], "range": [667, 767]},
     "axis": {"orient": "bottom", "offset": -102, "values": [0, 50, 100], "labelAngle": 270, "labelAlign": "right", "labelBaseline": "middle", "labelPadding": 7, "tickSize": 7, "title": "Depth (m)", "titleAngle": 180, "titleX": 711, "titleY": 68, "titleAlign": "center", "titleBaseline": "middle", "titleFontSize": 26}},
    "x2": {"field": "d2"},
    "color": {"field": "temp", "type": "quantitative", "scale": {"type": "linear", "domain": [4, 5.78, 9.33, 12.89, 16.44, 20], "range": ["#8000ff", "#0000ff", "#00ffff", "#00ff00", "#ffff00", "#ff0000"], "interpolate": "rgb"}, "legend": null}
   }
  },
  {
   "data": {"name": "ms095_start", "format": {"parse": {"t": "date:'%H:%M'"}}},
   "mark": {"type": "circle", "size": 22, "opacity": 1},
   "encoding": {
    "y": {"field": "t", "type": "temporal", "scale": {"domain": [{"year":1900,"month":1,"date":1,"hours":4,"minutes":46}, {"year":1900,"month":1,"date":1,"hours":11,"minutes":59}], "range": [1662, 940]},
     "axis": {"orient": "left", "offset": 0, "domain": false, "ticks": false, "labels": false, "title": "MS095 (51 cm)", "titleAngle": 270, "titleX": 627, "titleY": 1641, "titleAlign": "center", "titleBaseline": "middle", "titleFontSize": 30}},
    "x": {"field": "d", "type": "quantitative", "scale": {"domain": [0, 100], "range": [667, 767]}, "axis": null},
    "color": {"field": "temp", "type": "quantitative", "scale": {"type": "linear", "domain": [4, 5.78, 9.33, 12.89, 16.44, 20], "range": ["#8000ff", "#0000ff", "#00ffff", "#00ff00", "#ffff00", "#ff0000"], "interpolate": "rgb"}, "legend": null}
   }
  }
 ],
 "resolve": {"axis": {"x": "independent", "y": "independent"}}
},
{
 "data": {"values": [{}]},
 "mark": {"type": "rect", "stroke": "#333333", "strokeWidth": 1.5, "fill": {"gradient": "linear", "x1": 0, "y1": 1, "x2": 0, "y2": 0, "stops": [{"offset": 0, "color": "#8000ff"}, {"offset": 0.111, "color": "#0000ff"}, {"offset": 0.333, "color": "#00ffff"}, {"offset": 0.556, "color": "#00ff00"}, {"offset": 0.778, "color": "#ffff00"}, {"offset": 1, "color": "#ff0000"}]}},
 "encoding": {
  "x": {"datum": 0, "type": "quantitative", "scale": {"domain": [0, 1], "range": [723, 740]}, "axis": null},
  "x2": {"datum": 1},
  "y": {"datum": 4, "type": "quantitative", "scale": {"domain": [4, 20], "range": [555, 285]},
   "axis": {"orient": "right", "offset": -76, "domain": false, "values": [5, 10, 15, 20], "labelAngle": 270, "labelAlign": "center", "labelBaseline": "top", "labelPadding": 4, "tickSize": 7, "labelFontSize": 23, "title": "Ambient water temperaure (ºC)", "titleAngle": 270, "titleX": 58, "titleY": 415, "titleAlign": "center", "titleBaseline": "middle", "titleFontSize": 27}},
  "y2": {"datum": 20}
 }
}
],
"resolve": {"scale": {"x": "independent", "y": "independent"}, "axis": {"x": "independent", "y": "independent"}}
}
